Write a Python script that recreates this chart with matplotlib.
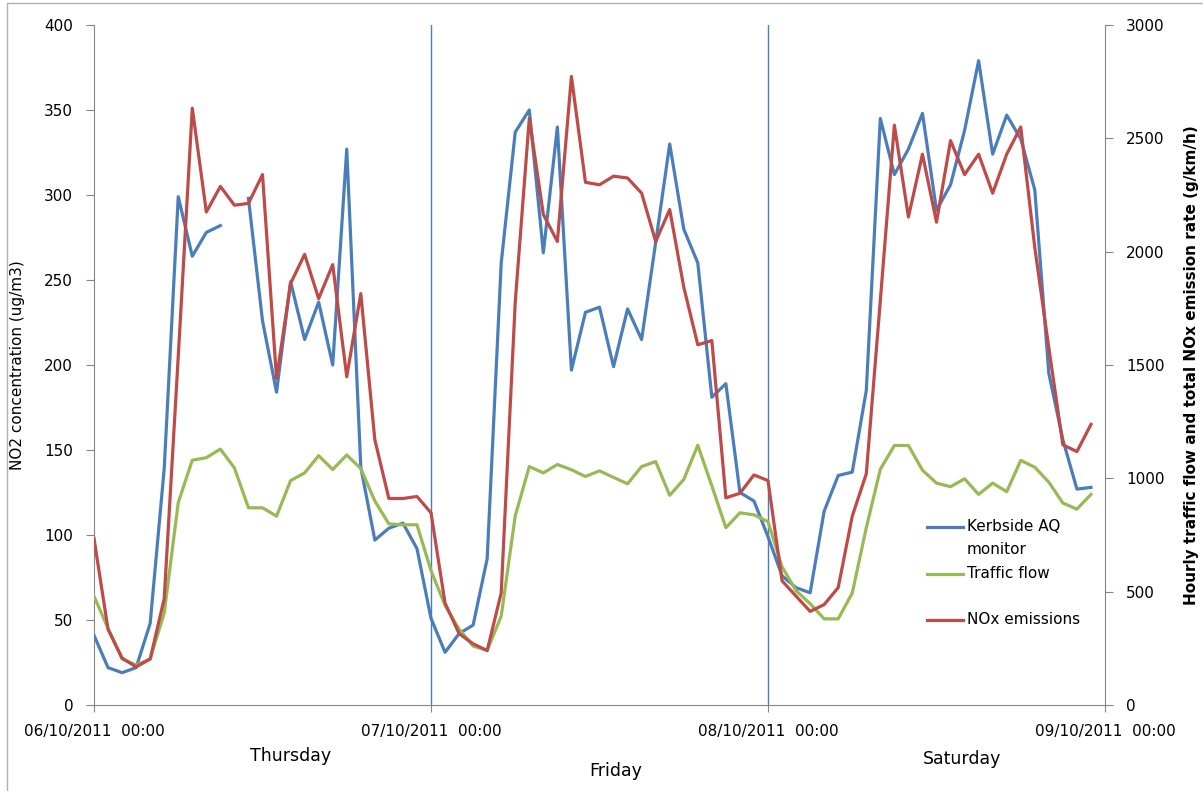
import numpy as np
import pandas as pd
import matplotlib
matplotlib.use("Agg")
import matplotlib.pyplot as plt
import matplotlib.dates as mdates
from matplotlib.lines import Line2D
from matplotlib.patches import Rectangle

plt.rcParams['font.family'] = ['DejaVu Sans']

# hourly data, 06/10/2011 00:00 -> 08/10/2011 23:00
times = pd.date_range("2011-10-06 00:00", periods=72, freq="h")

# kerbside AQ monitor, NO2 (ug/m3) - left axis
kerbside_no2 = [41, 22, 19, 22, 48, 139, 299, 264, 278, 282, np.nan, 298,
                226, 184, 249, 215, 237, 200, 327, 140, 97, 104, 107, 92,
                51, 31, 42, 47, 86, 260, 337, 350, 266, 340, 197, 231,
                234, 199, 233, 215, 272, 330, 280, 260, 181, 189, 125, 120,
                99, 76, 69, 66, 114, 135, 137, 185, 345, 312, 327, 348,
                291, 306, 338, 379, 324, 347, 333, 303, 195, 156, 127, 128]

# traffic flow - right axis
traffic_flow = [480, 338, 203, 176, 203, 405, 893, 1080, 1091, 1129, 1046, 870,
                870, 833, 990, 1024, 1100, 1039, 1103, 1043, 900, 799, 795, 795,
                593, 439, 335, 260, 241, 392, 835, 1052, 1024, 1061, 1038, 1008,
                1033, 1004, 976, 1052, 1074, 925, 995, 1146, 967, 782, 848, 839,
                809, 610, 504, 447, 380, 380, 494, 782, 1040, 1145, 1145, 1036,
                979, 963, 998, 929, 979, 941, 1079, 1049, 983, 891, 864, 929]

# total NOx emissions (g/km/h) - right axis
nox_emissions = [735, 334, 207, 168, 203, 469, 1538, 2633, 2175, 2288, 2205, 2213,
                 2340, 1440, 1860, 1988, 1793, 1943, 1448, 1815, 1170, 911, 911, 920,
                 848, 450, 315, 270, 240, 495, 1778, 2588, 2164, 2045, 2773, 2306,
                 2295, 2333, 2325, 2258, 2045, 2186, 1844, 1589, 1608, 914, 934, 1015,
                 990, 548, 480, 413, 443, 518, 833, 1020, 1785, 2558, 2153, 2430,
                 2130, 2490, 2340, 2430, 2258, 2430, 2550, 2018, 1575, 1148, 1118, 1238]

day_ticks = pd.date_range("2011-10-06", periods=4, freq="D")
day_names = ["Thursday", "Friday", "Saturday"]

c_blue = "#4A7EBB"
c_green = "#98B954"
c_red = "#BE4B48"
c_axis = "#868686"

fig = plt.figure(figsize=(12.03, 7.91), dpi=100)
plt.subplots_adjust(left=94 / 1203, right=1105 / 1203, bottom=86 / 791, top=766 / 791)
ax = fig.add_subplot(111)
ax2 = ax.twinx()

# day separators
for d in day_ticks[1:3]:
    ax.axvline(d, color=c_blue, lw=1.0, zorder=1)

ax.plot(times, kerbside_no2, color=c_blue, lw=2.3, zorder=3)
ax2.plot(times, traffic_flow, color=c_green, lw=2.3, zorder=3)
ax2.plot(times, nox_emissions, color=c_red, lw=2.3, zorder=3)

ax.set_xlim(day_ticks[0], day_ticks[-1])
ax.set_ylim(0, 400)
ax2.set_ylim(0, 3000)
ax.set_yticks(np.arange(0, 401, 50))
ax2.set_yticks(np.arange(0, 3001, 500))
ax.set_xticks(day_ticks)
ax.xaxis.set_major_formatter(mdates.DateFormatter("%d/%m/%Y  %H:%M"))

for a in (ax, ax2):
    a.spines['top'].set_visible(False)
    for s in ('left', 'right', 'bottom'):
        a.spines[s].set_color(c_axis)
ax.spines['right'].set_visible(False)
ax2.spines['left'].set_visible(False)
ax2.spines['bottom'].set_visible(False)

ax.tick_params(axis='y', direction='out', length=6, color=c_axis, labelsize=11, pad=9)
ax.tick_params(axis='x', direction='out', length=5, color=c_axis, labelsize=11, pad=9)
ax2.tick_params(axis='y', direction='out', length=6, color=c_axis, labelsize=11, pad=9)

ax.set_ylabel("NO2 concentration (ug/m3)", fontsize=11, labelpad=14)
ax2.set_ylabel("Hourly traffic flow and total NOx emission rate (g/km/h)",
               fontsize=11, fontweight='bold', rotation=90, labelpad=14)

# day names under the axis
for name, xf, yf in zip(day_names, [0.194, 0.516, 0.8586], [-0.075, -0.097, -0.08]):
    ax.text(xf, yf, name, transform=ax.transAxes, ha='center', va='center', fontsize=12.5)

# legend
leg = [("Kerbside AQ", c_blue, 0.262), ("Traffic flow", c_green, 0.193), ("NOx emissions", c_red, 0.125)]
for label, col, yf in leg:
    ax.add_line(Line2D([0.824, 0.8595], [yf, yf], transform=ax.transAxes, color=col, lw=2.3, clip_on=False))
    ax.text(0.8635, yf, label, transform=ax.transAxes, ha='left', va='center', fontsize=11)
ax.text(0.8635, 0.229, "monitor", transform=ax.transAxes, ha='left', va='center', fontsize=11)

# chart frame
fig.add_artist(Rectangle((7 / 1203, -0.05), 1.2, 1.05 - 3 / 791, transform=fig.transFigure,
                         fill=False, edgecolor="#b0b0b0", lw=1.0))

fig.savefig("out.png", dpi=100)
